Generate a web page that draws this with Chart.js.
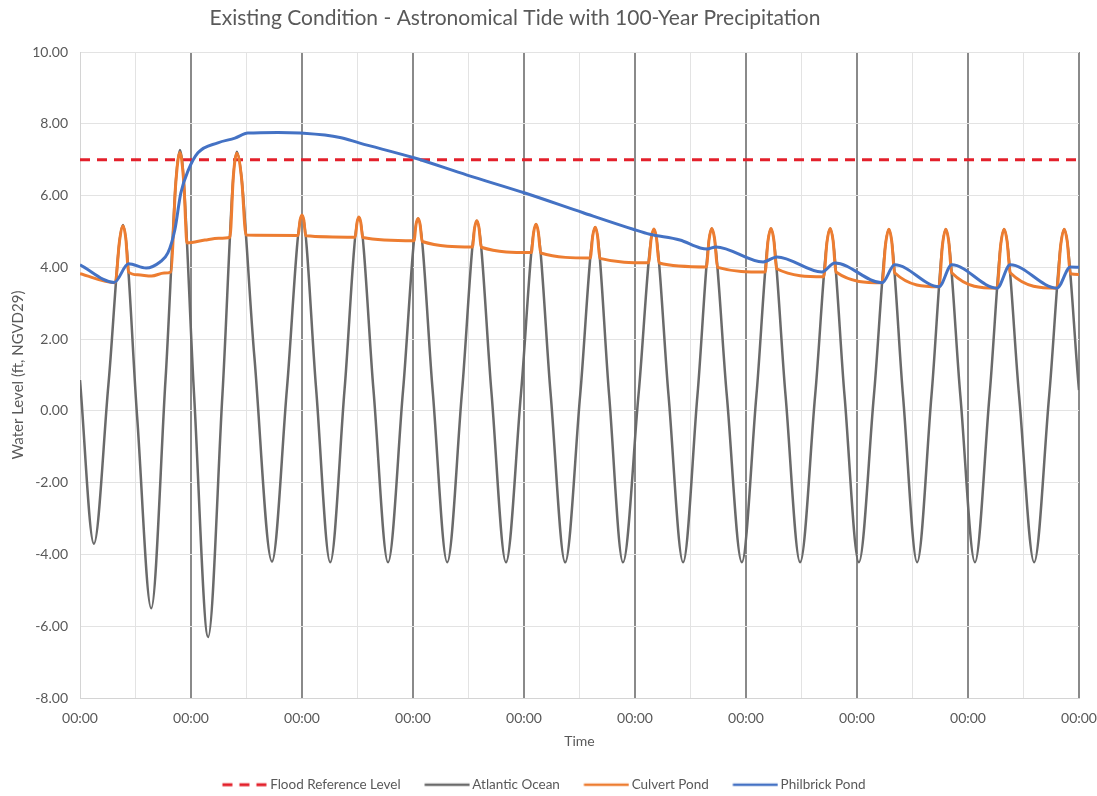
<!DOCTYPE html>
<html>
<head>
<meta charset="utf-8">
<title>Existing Condition - Astronomical Tide with 100-Year Precipitation</title>
<script src="https://cdn.jsdelivr.net/npm/chart.js@4"></script>
<style>
  html, body { margin: 0; padding: 0; background: #ffffff; }
  #wrap { width: 1097px; height: 796px; position: relative; }
</style>
</head>
<body>
<div id="wrap"><canvas id="chart-tide"></canvas></div>
<script>
const chartTitle = 'Existing Condition - Astronomical Tide with 100-Year Precipitation';
const seriesNames = ['Flood Reference Level', 'Atlantic Ocean', 'Culvert Pond', 'Philbrick Pond'];

// time in hours from the first 00:00 (9 days shown)
const timeMin = 0;
const timeMax = 216;
const levelMin = -8;
const levelMax = 10;

const floodLevel = 7.0;

// Atlantic Ocean: highs, lows and mid-tide points
const oceanHours = [
    0, 3.0, 6.15, 9.3, 12.35, 15.4, 18.5, 21.6, 24.65, 27.7, 30.8, 33.9,
    37.7, 41.5, 44.75, 48.0, 51.05, 54.1, 57.2, 60.3, 63.45, 66.6, 69.85, 73.1,
    76.25, 79.4, 82.6, 85.8, 88.95, 92.1, 95.35, 98.6, 101.75, 104.9, 108.15, 111.4,
    114.4, 117.4, 120.75, 124.1, 127.25, 130.4, 133.5, 136.6, 139.85, 143.1, 146.25, 149.4,
    152.55, 155.7, 158.95, 162.2, 165.3, 168.4, 171.65, 174.9, 177.95, 181.0, 184.1, 187.2,
    190.35, 193.5, 196.65, 199.8, 203.05, 206.3, 209.55, 212.8, 216,
];
const oceanLevels = [
    0.86, -3.70, 0.74, 5.18, -0.16, -5.50, 0.89, 7.27, 0.49, -6.30, 0.46, 7.22,
    1.51, -4.20, 0.63, 5.46, 0.62, -4.22, 0.59, 5.40, 0.59, -4.22, 0.57, 5.36,
    0.57, -4.22, 0.54, 5.30, 0.54, -4.22, 0.49, 5.20, 0.49, -4.22, 0.45, 5.12,
    0.45, -4.22, 0.43, 5.07, 0.43, -4.22, 0.43, 5.08, 0.43, -4.22, 0.43, 5.08,
    0.43, -4.22, 0.43, 5.08, 0.43, -4.22, 0.42, 5.06, 0.42, -4.22, 0.42, 5.06,
    0.42, -4.22, 0.42, 5.06, 0.42, -4.22, 0.42, 5.06, 0.58,
];

// Culvert Pond
const culvertHours = [
    0, 7.6, 8.54, 9.3, 9.91, 10.49, 12.5, 15.5, 18.2,
    19.67, 20.64, 21.6, 22.45, 23.14, 27.0, 30.0,
    32.41, 33.16, 33.9, 34.96, 35.9,
    47.16, 47.58, 48.0, 48.40, 48.80,
    59.50, 59.90, 60.3, 60.71, 61.13,
    72.21, 72.66, 73.1, 73.54, 73.98,
    84.84, 85.32, 85.8, 86.27, 86.75,
    97.57, 98.09, 98.6, 99.10, 99.60,
    110.32, 110.86, 111.4, 111.90, 112.40,
    122.93, 123.51, 124.1, 124.65, 125.21,
    135.43, 136.02, 136.6, 137.22, 137.83,
    148.13, 148.76, 149.4, 150.01, 150.62,
    160.81, 161.50, 162.2, 162.83, 163.45,
    173.42, 174.16, 174.9, 175.51, 176.14,
    185.73, 186.46, 187.2, 187.83, 188.48,
    198.28, 199.04, 199.8, 200.45, 201.12,
    211.23, 212.02, 212.8, 213.47, 214.14, 216,
];
const culvertLevels = [
    3.82, 3.57, 4.73, 5.15, 4.80, 3.87, 3.79, 3.76, 3.84,
    3.87, 6.23, 7.20, 6.35, 4.68, 4.76, 4.81,
    4.84, 6.54, 7.18, 6.45, 4.90,
    4.89, 5.31, 5.46, 5.31, 4.88,
    4.84, 5.25, 5.40, 5.25, 4.83,
    4.74, 5.20, 5.36, 5.19, 4.72,
    4.57, 5.10, 5.30, 5.10, 4.56,
    4.41, 4.98, 5.20, 4.98, 4.40,
    4.26, 4.88, 5.12, 4.88, 4.25,
    4.13, 4.81, 5.07, 4.81, 4.12,
    4.01, 4.78, 5.08, 4.78, 4.00,
    3.87, 4.74, 5.08, 4.77, 3.96,
    3.74, 4.70, 5.08, 4.74, 3.87,
    3.57, 4.63, 5.06, 4.73, 3.85,
    3.46, 4.60, 5.06, 4.73, 3.85,
    3.42, 4.59, 5.06, 4.73, 3.85,
    3.42, 4.59, 5.06, 4.71, 3.82, 3.80,
];

// Philbrick Pond
const philbrickHours = [
    0, 7.4, 10.49, 14.3, 17.3, 19.0, 20.5, 21.8, 23.4, 25.5, 29.8, 33.5,
    36.3, 42.8, 47.6, 56.2, 60.5, 72.0, 83.7, 96.2, 108.8, 119.6, 123.2, 129.7,
    134.1, 135.6, 137.5, 147.7, 150.7, 160.4, 163.2, 173.42, 176.14, 185.73, 188.48,
    198.28, 201.12, 211.23, 214.14, 216,
];
const philbrickLevels = [
    4.07, 3.58, 4.10, 3.98, 4.15, 4.40, 5.04, 6.07, 6.70, 7.19, 7.47, 7.60,
    7.74, 7.76, 7.74, 7.62, 7.46, 7.06, 6.57, 6.07, 5.52, 5.06, 4.92, 4.76,
    4.54, 4.51, 4.57, 4.15, 4.29, 3.87, 4.12, 3.57, 4.07, 3.46, 4.07,
    3.42, 4.07, 3.42, 4.01, 4.00,
];

const textColor = '#595959';
const fontFamily = 'Lato, "Open Sans", sans-serif';
const colors = { flood: '#e3202b', ocean: '#6a6a6a', culvert: '#ed7d31', philbrick: '#4472c4' };

const toPoints = (hours, levels) => hours.map((h, i) => ({ x: h, y: levels[i] }));

// legend swatch: 45px line sitting in the right part of a 50px canvas,
// so it ends just before the label text
function lineSwatch(color, width, dash) {
    const c = document.createElement('canvas');
    c.width = 50;
    c.height = 6;
    const g = c.getContext('2d');
    g.strokeStyle = color;
    g.lineWidth = width;
    g.setLineDash(dash);
    g.beginPath();
    g.moveTo(4.5, 3);
    g.lineTo(49.5, 3);
    g.stroke();
    return c;
}

const headingPlugin = {
    id: 'heading',
    afterDraw(chart) {
        const { ctx } = chart;
        ctx.save();
        ctx.font = `21px ${fontFamily}`;
        ctx.fillStyle = textColor;
        ctx.textAlign = 'center';
        ctx.textBaseline = 'middle';
        ctx.fillText(chartTitle, 515, 18);
        ctx.restore();
    },
};

const lineCommon = {
    pointRadius: 0,
    pointHoverRadius: 0,
    fill: false,
    cubicInterpolationMode: 'monotone',
};

const ctx = document.getElementById('chart-tide').getContext('2d');
new Chart(ctx, {
    type: 'line',
    data: {
        datasets: [
            {
                ...lineCommon,
                label: seriesNames[0],
                data: [{ x: timeMin, y: floodLevel }, { x: timeMax, y: floodLevel }],
                borderColor: colors.flood,
                borderWidth: 3,
                borderDash: [10, 7],
                pointStyle: lineSwatch(colors.flood, 3, [10, 7]),
                order: 3,
            },
            {
                ...lineCommon,
                label: seriesNames[1],
                data: toPoints(oceanHours, oceanLevels),
                borderColor: colors.ocean,
                borderWidth: 2.5,
                pointStyle: lineSwatch(colors.ocean, 2.5, []),
                order: 2,
            },
            {
                ...lineCommon,
                label: seriesNames[2],
                data: toPoints(culvertHours, culvertLevels),
                borderColor: colors.culvert,
                borderWidth: 3,
                pointStyle: lineSwatch(colors.culvert, 2.5, []),
                order: 1,
            },
            {
                ...lineCommon,
                label: seriesNames[3],
                data: toPoints(philbrickHours, philbrickLevels),
                borderColor: colors.philbrick,
                borderWidth: 3,
                pointStyle: lineSwatch(colors.philbrick, 2.5, []),
                order: 0,
            },
        ],
    },
    options: {
        responsive: true,
        maintainAspectRatio: false,
        animation: false,
        layout: { padding: { top: 52, right: 9, left: 0, bottom: 0 } },
        plugins: {
            title: { display: false },
            tooltip: { enabled: false },
            legend: {
                display: true,
                position: 'bottom',
                maxHeight: 42,
                labels: {
                    usePointStyle: true,
                    pointStyleWidth: 41,
                    padding: 24,
                    color: textColor,
                    font: { family: fontFamily, size: 13.5 },
                    sort: (a, b) => a.datasetIndex - b.datasetIndex,
                },
            },
        },
        scales: {
            x: {
                type: 'linear',
                min: timeMin,
                max: timeMax,
                afterFit: (scale) => {
                    scale.height = 56;
                    scale.paddingRight = 18;
                    scale.paddingLeft = 0;
                },
                ticks: {
                    stepSize: 12,
                    autoSkip: false,
                    maxRotation: 0,
                    padding: 12,
                    color: textColor,
                    font: { family: fontFamily, size: 14 },
                    callback: (v) => (v % 24 === 0 ? '00:00' : ''),
                },
                grid: {
                    drawTicks: false,
                    color: (c) => (c.tick && c.tick.value % 24 === 0 && c.tick.value !== timeMin ? '#8a8a8a' : '#e3e3e3'),
                    lineWidth: (c) => (c.tick && c.tick.value % 24 === 0 && c.tick.value !== timeMin ? 2 : 1),
                },
                border: { color: '#d4d4d4', width: 1 },
                title: {
                    display: true,
                    text: 'Time',
                    color: textColor,
                    font: { family: fontFamily, size: 14 },
                },
            },
            y: {
                min: levelMin,
                max: levelMax,
                afterFit: (scale) => { scale.width = 80; },
                ticks: {
                    stepSize: 2,
                    padding: 12,
                    color: textColor,
                    font: { family: fontFamily, size: 14 },
                    callback: (v) => v.toFixed(2),
                },
                grid: { drawTicks: false, color: '#e3e3e3', lineWidth: 1 },
                border: { color: '#d4d4d4', width: 1 },
                title: {
                    display: true,
                    text: 'Water Level (ft, NGVD29)',
                    color: textColor,
                    font: { family: fontFamily, size: 15 },
                    padding: { top: 9 },
                },
            },
        },
    },
    plugins: [headingPlugin],
});
</script>
</body>
</html>
